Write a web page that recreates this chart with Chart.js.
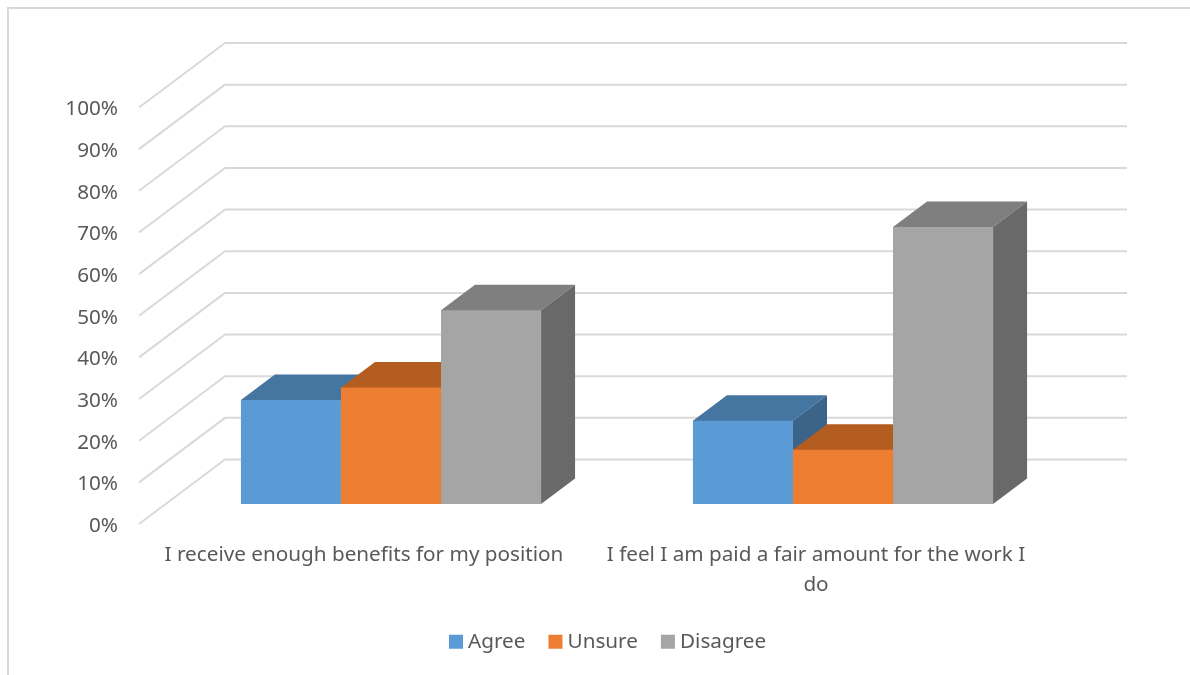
<!DOCTYPE html>
<html>
<head>
<meta charset="utf-8">
<script src="https://cdn.jsdelivr.net/npm/chart.js@4/dist/chart.umd.min.js"></script>
<style>
    html, body { margin: 0; padding: 0; background: #fff; overflow: hidden; }
    #frame { position: absolute; left: 7px; top: 7px; width: 1183px; height: 668px; border: 2px solid #d9d9d9; border-bottom: none; border-right: none; }
    #wrap { position: absolute; left: 0; top: 0; width: 1190px; height: 675px; }
</style>
</head>
<body>
<div id="frame"></div>
<div id="wrap"><canvas id="chart" width="1190" height="675"></canvas></div>
<script>
const categories = [
    'I receive enough benefits for my position',
    ['I feel I am paid a fair amount for the work I', 'do']
];
const seriesNames = ['Agree', 'Unsure', 'Disagree'];
const agree = [25, 20];
const unsure = [28, 13];
const disagree = [46.5, 66.5];
const yTicks = [0, 10, 20, 30, 40, 50, 60, 70, 80, 90, 100];

const FRONT_COLORS = ['#5b9bd5', '#ed7d31', '#a5a5a5'];
const TOP_COLORS = ['#4575a1', '#b35d21', '#7f7f7f'];
const SIDE_COLORS = ['#3b6488', '#9a5120', '#696969'];
const TEXT_COLOR = '#595959';
const GRID_COLOR = '#d9d9d9';
const FONT_FAMILY = '"Noto Sans", sans-serif';
const FONT_SIZE = 20.7;

// depth of the bars and of the whole floor, in px
const BAR_DX = 34, BAR_DY = 25.5;
const WALL_RIGHT = 1127, WALL_LEFT = 225, AXIS_X = 139;
const FLOOR_BACK = 44.5, FLOOR_FRONT = 20;

const box3d = {
    id: 'box3d',
    // legend is centred on the whole frame, not on the plot
    afterLayout(chart) {
        chart.legend.left = 151.4;
        chart.legend.right = 1069;
    },
    beforeDraw(chart) {
        const ctx = chart.ctx;
        const y = chart.scales.y;
        ctx.save();
        ctx.strokeStyle = GRID_COLOR;
        ctx.lineWidth = 2;
        ctx.lineJoin = 'round';
        yTicks.forEach((v) => {
            const py = y.getPixelForValue(v);
            ctx.beginPath();
            ctx.moveTo(AXIS_X, py + FLOOR_FRONT);
            ctx.lineTo(WALL_LEFT, py - FLOOR_BACK);
            ctx.lineTo(WALL_RIGHT, py - FLOOR_BACK);
            ctx.stroke();
        });
        ctx.restore();
    },
    // datasets have to go left to right so the later bar covers the earlier one
    beforeDatasetsDraw(chart) {
        const ctx = chart.ctx;
        chart.data.datasets.forEach((ds, i) => {
            chart.getDatasetMeta(i).data.forEach((bar) => {
                const { x, y, base, width } = bar.getProps(['x', 'y', 'base', 'width']);
                const l = x - width / 2, r = x + width / 2;
                // top runs 1px under the front so no seam shows between them
                ctx.fillStyle = TOP_COLORS[i];
                ctx.beginPath();
                ctx.moveTo(l, y + 1);
                ctx.lineTo(l, y);
                ctx.lineTo(l + BAR_DX, y - BAR_DY);
                ctx.lineTo(r + BAR_DX, y - BAR_DY);
                ctx.lineTo(r, y);
                ctx.lineTo(r, y + 1);
                ctx.closePath();
                ctx.fill();
                ctx.fillStyle = SIDE_COLORS[i];
                ctx.beginPath();
                ctx.moveTo(r, y);
                ctx.lineTo(r + BAR_DX, y - BAR_DY);
                ctx.lineTo(r + BAR_DX, base - BAR_DY);
                ctx.lineTo(r, base);
                ctx.closePath();
                ctx.fill();
                bar.draw(ctx);
            });
        });
        return false;
    }
};

new Chart(document.getElementById('chart'), {
    type: 'bar',
    data: {
        labels: categories,
        datasets: [
            { label: seriesNames[0], data: agree, backgroundColor: FRONT_COLORS[0] },
            { label: seriesNames[1], data: unsure, backgroundColor: FRONT_COLORS[1] },
            { label: seriesNames[2], data: disagree, backgroundColor: FRONT_COLORS[2] }
        ]
    },
    options: {
        responsive: false,
        animation: false,
        categoryPercentage: 0.664,
        barPercentage: 1,
        layout: { padding: { left: 40, right: 121, top: 87.5, bottom: 13 } },
        scales: {
            x: {
                grid: { display: false },
                border: { display: false },
                ticks: {
                    color: TEXT_COLOR,
                    font: { family: FONT_FAMILY, size: FONT_SIZE, lineHeight: 1.45 },
                    maxRotation: 0,
                    autoSkip: false,
                    padding: 28,
                    labelOffset: -27
                },
                afterFit(scale) { scale.height = 99; }
            },
            y: {
                min: 0,
                max: 100,
                grid: { display: false, drawTicks: false },
                border: { display: false },
                ticks: {
                    stepSize: 10,
                    color: TEXT_COLOR,
                    font: { family: FONT_FAMILY, size: FONT_SIZE },
                    padding: 47,
                    labelOffset: 22,
                    callback: (v) => v + '%'
                },
                afterFit(scale) { scale.width = 125; }
            }
        },
        plugins: {
            tooltip: { enabled: false },
            legend: {
                position: 'bottom',
                labels: {
                    color: TEXT_COLOR,
                    font: { family: FONT_FAMILY, size: FONT_SIZE },
                    boxWidth: 3.4,
                    boxHeight: 3.4,
                    padding: 28.3,
                    // thick border brings the box back to 14px, gap to the text stays tight
                    generateLabels(chart) {
                        return Chart.defaults.plugins.legend.labels.generateLabels(chart).map((item) => ({
                            ...item,
                            strokeStyle: item.fillStyle,
                            lineWidth: 10.6
                        }));
                    }
                }
            }
        }
    },
    plugins: [box3d]
});
</script>
</body>
</html>
